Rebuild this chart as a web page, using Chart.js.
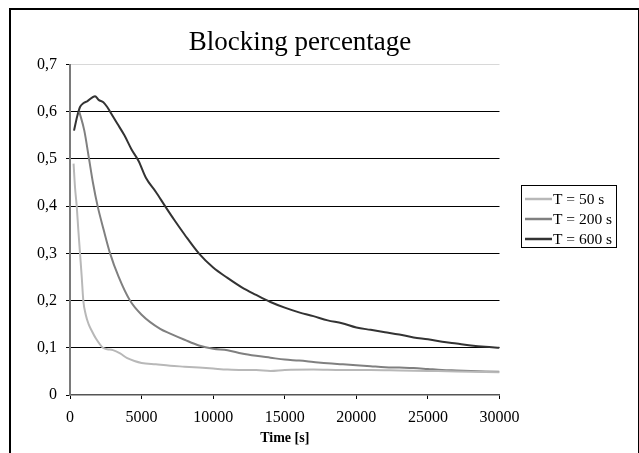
<!DOCTYPE html>
<html>
<head>
<meta charset="utf-8">
<script src="https://cdn.jsdelivr.net/npm/chart.js@4/dist/chart.umd.min.js"></script>
<style>
  html, body { margin: 0; padding: 0; background: #fff; }
  #wrap { width: 639px; height: 453px; }
</style>
</head>
<body>
<div id="wrap"><canvas id="c" width="639" height="453"></canvas></div>
<script>
// ---- data ----
const chartTitle = 'Blocking percentage';
const xAxisTitle = 'Time [s]';
const seriesLabels = ['T = 50 s', 'T = 200 s', 'T = 600 s'];
const seriesColors = ['#b8b8b8', '#808080', '#333333'];

const xTickLabels = ['0', '5000', '10000', '15000', '20000', '25000', '30000'];
const yTickLabels = ['0', '0,1', '0,2', '0,3', '0,4', '0,5', '0,6', '0,7'];

const t50 = [250, 350, 470, 580, 700, 820, 930, 1100, 1300, 1500, 1800, 2300, 2600, 3000, 3500, 4000, 4500, 5000, 6000, 7000, 8000, 9000, 10000, 11000, 12000, 13000, 14000, 15000, 17000, 19000, 21000, 23000, 25000, 27000, 30000];
const v50 = [0.49, 0.44, 0.40, 0.35, 0.30, 0.25, 0.20, 0.17, 0.15, 0.137, 0.12, 0.10, 0.097, 0.095, 0.088, 0.078, 0.072, 0.068, 0.065, 0.062, 0.060, 0.058, 0.056, 0.054, 0.053, 0.053, 0.051, 0.053, 0.054, 0.053, 0.053, 0.052, 0.051, 0.050, 0.048];

const t200 = [650, 1000, 1330, 1600, 1930, 2350, 2800, 3400, 4190, 5000, 6300, 7000, 8000, 9000, 10000, 11000, 12000, 13000, 14000, 15000, 16000, 17000, 18000, 19000, 20000, 21000, 22000, 23000, 24000, 25000, 26000, 27000, 28000, 29000, 30000];
const v200 = [0.60, 0.56, 0.50, 0.45, 0.40, 0.35, 0.30, 0.25, 0.20, 0.17, 0.14, 0.13, 0.117, 0.105, 0.098, 0.095, 0.088, 0.083, 0.079, 0.075, 0.073, 0.070, 0.067, 0.065, 0.063, 0.061, 0.059, 0.058, 0.057, 0.055, 0.053, 0.052, 0.051, 0.050, 0.049];

const t600 = [280, 500, 700, 930, 1200, 1750, 2000, 2330, 2600, 2800, 3300, 3800, 4300, 4800, 5300, 6000, 6640, 7300, 8000, 9000, 10000, 11000, 12000, 13000, 14000, 15000, 16000, 17000, 18000, 19000, 20000, 21000, 22000, 23000, 24000, 25000, 26000, 27000, 28000, 29000, 30000];
const v600 = [0.56, 0.59, 0.61, 0.618, 0.622, 0.633, 0.625, 0.62, 0.61, 0.60, 0.575, 0.55, 0.52, 0.495, 0.46, 0.43, 0.40, 0.37, 0.34, 0.30, 0.27, 0.248, 0.228, 0.212, 0.197, 0.185, 0.175, 0.167, 0.158, 0.152, 0.143, 0.138, 0.133, 0.128, 0.122, 0.118, 0.113, 0.109, 0.105, 0.102, 0.100];

const seriesT = [t50, t200, t600];
const seriesV = [v50, v200, v600];

// ---- build ----
const datasets = seriesLabels.map((lab, i) => ({
  label: lab,
  data: seriesT[i].map((t, k) => ({ x: t, y: seriesV[i][k] })),
  borderColor: seriesColors[i],
  backgroundColor: seriesColors[i],
  borderWidth: 2,
  pointRadius: 0,
  cubicInterpolationMode: 'monotone',
  fill: false
}));

const SERIF = '"Liberation Serif", "Times New Roman", serif';

const framePlugin = {
  id: 'frame',
  beforeDraw(chart) {
    const ctx = chart.ctx;
    ctx.save();
    ctx.fillStyle = '#fff';
    ctx.fillRect(0, 0, chart.width, chart.height);
    ctx.strokeStyle = '#000';
    ctx.lineWidth = 2;
    ctx.beginPath();
    ctx.moveTo(10, 453);
    ctx.lineTo(10, 9);
    ctx.lineTo(639, 9);
    ctx.stroke();
    ctx.lineWidth = 1;
    ctx.beginPath();
    ctx.moveTo(638.5, 9);
    ctx.lineTo(638.5, 453);
    ctx.stroke();
    // title
    ctx.fillStyle = '#000';
    ctx.font = '27px ' + SERIF;
    ctx.textAlign = 'center';
    ctx.textBaseline = 'alphabetic';
    ctx.fillText(chartTitle, 300, 50);
    ctx.restore();
  },
  afterDraw(chart) {
    const ctx = chart.ctx;
    const ds = chart.data.datasets;
    const bx = 521, by = 185, bw = 95, bh = 62;
    ctx.save();
    ctx.fillStyle = '#fff';
    ctx.fillRect(bx, by, bw, bh);
    ctx.strokeStyle = '#000';
    ctx.lineWidth = 1;
    ctx.strokeRect(bx + 0.5, by + 0.5, bw, bh);
    ctx.font = '15.5px ' + SERIF;
    ctx.textBaseline = 'middle';
    ctx.textAlign = 'left';
    ds.forEach((d, i) => {
      const y = by + 14 + i * 20;
      ctx.strokeStyle = d.borderColor;
      ctx.lineWidth = 2.5;
      ctx.beginPath();
      ctx.moveTo(bx + 4, y);
      ctx.lineTo(bx + 31, y);
      ctx.stroke();
      ctx.fillStyle = '#000';
      ctx.fillText(d.label, bx + 32, y + 1);
    });
    ctx.restore();
  }
};

new Chart(document.getElementById('c'), {
  type: 'line',
  data: { datasets },
  options: {
    responsive: false,
    animation: false,
    layout: { padding: { left: 0, right: 139.5, top: 64.5, bottom: 0 } },
    plugins: {
      legend: { display: false },
      title: { display: false },
      tooltip: { enabled: false }
    },
    scales: {
      x: {
        type: 'linear',
        min: 0, max: 30000,
        ticks: {
          stepSize: 5000,
          maxRotation: 0,
          color: '#000',
          font: { family: SERIF, size: 16 },
          padding: 9,
          callback: (v, i) => xTickLabels[i]
        },
        grid: { drawOnChartArea: false, drawTicks: true, tickLength: 4, tickColor: '#000' },
        border: { color: '#555', width: 1.5 },
        title: {
          display: true, text: xAxisTitle, color: '#000',
          font: { family: SERIF, size: 14, weight: 'bold' },
          padding: { top: 0, bottom: 6 }
        },
        afterFit: (s) => { s.height = 58; }
      },
      y: {
        min: 0, max: 0.7,
        ticks: {
          stepSize: 0.1,
          color: '#000',
          font: { family: SERIF, size: 16 },
          padding: 9,
          callback: (v, i) => yTickLabels[i]
        },
        grid: {
          color: (c) => {
            const v = c.tick ? Math.round(c.tick.value * 10) : -1;
            if (v === 7) return '#d8d8d8';
            if (v === 0) return 'rgba(0,0,0,0)';
            return '#000';
          },
          tickColor: '#000',
          tickLength: 4,
          lineWidth: 1
        },
        border: { color: '#7a7a7a', width: 2 },
        afterFit: (s) => { s.width = 70; }
      }
    }
  },
  plugins: [framePlugin]
});
</script>
</body>
</html>
